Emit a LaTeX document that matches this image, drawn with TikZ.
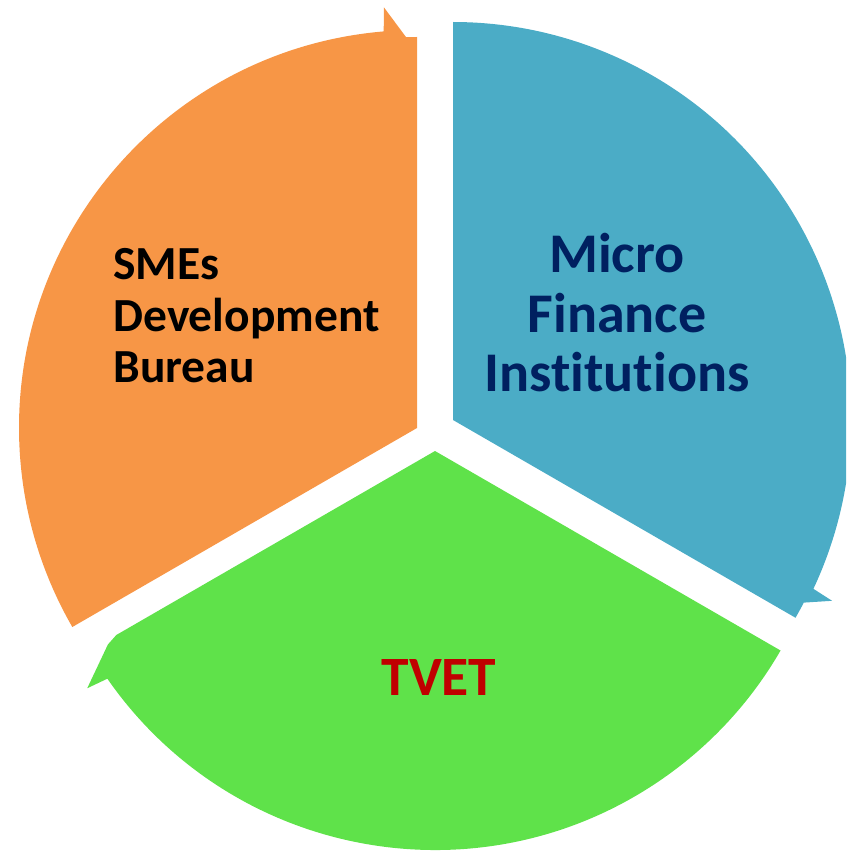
\documentclass[tikz,border=0pt]{standalone}
\usepackage{fontspec}
\setmainfont{Carlito}[Ligatures=NoCommon]
\definecolor{smesorange}{HTML}{F79646}
\definecolor{mfiblue}{HTML}{4BACC6}
\definecolor{tvetgreen}{HTML}{5FE24A}
\definecolor{mfinavy}{HTML}{002060}
\definecolor{tvetred}{HTML}{C00000}
\tikzset{every picture/.style={line width=0.75pt}}
\tikzset{
  smestext/.style={font=\bfseries\fontsize{47.5}{51.5}\selectfont,text=black,align=left},
  mfitext/.style={font=\bfseries\fontsize{56}{59.5}\selectfont,text=mfinavy,align=center},
  tvettext/.style={font=\bfseries\fontsize{55.5}{59}\selectfont,text=tvetred}
}

\begin{document}
\begin{tikzpicture}[x=1pt,y=1pt,yscale=-1,xscale=1]
    \useasboundingbox (0,0) rectangle (846,853);
    \clip (0,0) rectangle (846,853);
    %Shape: Segment Arrow [id:smes]
    \begin{scope}[shift={(417,428)},yscale=-1]
    \fill[smesorange] (0,0) -- (90:391) arc[start angle=90,end angle=91.6,radius=391] -- (94.5:422) -- (94.8:398) arc[start angle=94.8,end angle=210,radius=398] -- cycle ;
    \end{scope}
    %Shape: Segment Arrow [id:mfi]
    \begin{scope}[shift={(453,420)},yscale=-1]
    \fill[mfiblue] (0,0) -- (-30:395.5) arc[start angle=-30,end angle=-27.5,radius=395.5] -- (-25.5:420) -- (-25.1:398) arc[start angle=-25.1,end angle=90,radius=398] -- cycle ;
    \end{scope}
    %Shape: Segment Arrow [id:tvet]
    \begin{scope}[shift={(435,451)},yscale=-1]
    \fill[tvetgreen] (0,0) -- (210:368) -- (210.6:380) -- (214.3:421) -- (214.8:399) arc[start angle=214.8,end angle=330,radius=399] -- cycle ;
    \end{scope}
    % Text Node
    \draw (113,316) node (smes) [anchor=west][inner sep=0pt] [smestext] {SMEs\\Development\\Bureau};
    % Text Node
    \draw (617,313) node (mfi) [anchor=center][inner sep=0pt] [mfitext] {Micro\\Finance\\Institutions};
    % Text Node
    \draw (439,677) node (tvet) [anchor=center][inner sep=0pt] [tvettext] {TVET};
\end{tikzpicture}
\end{document}
